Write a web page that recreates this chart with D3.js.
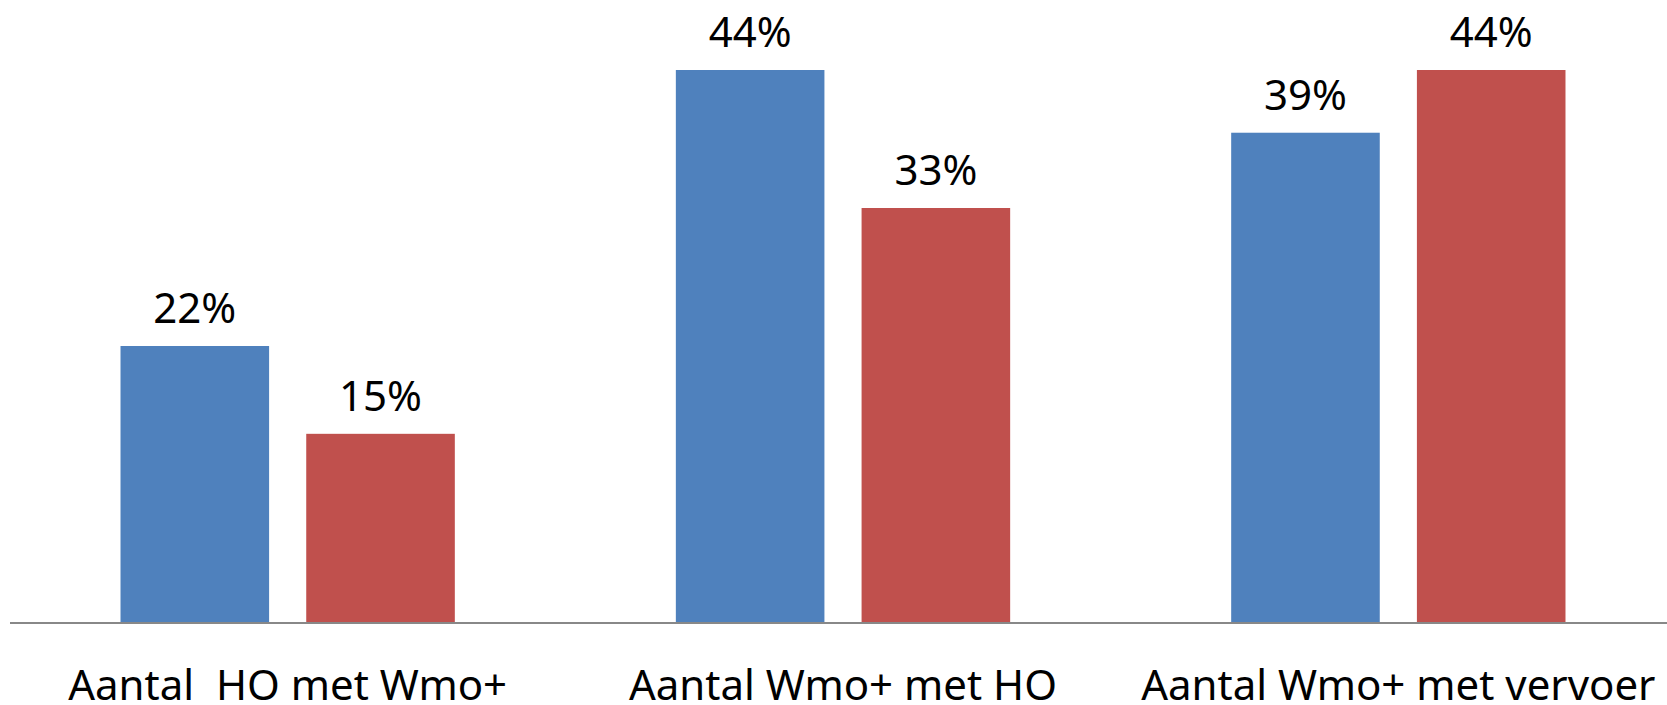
<!DOCTYPE html>
<html>
<head>
<meta charset="utf-8">
<script src="https://cdn.jsdelivr.net/npm/d3@7"></script>
<style>
  html, body { margin: 0; padding: 0; background: #fff; }
  svg { display: block; }
</style>
</head>
<body>
<svg id="chart" width="1667" height="705"></svg>
<script>
const categories = ["Aantal  HO met Wmo+", "Aantal Wmo+ met HO", "Aantal Wmo+ met vervoer"];
const seriesNames = ["Serie 1", "Serie 2"];
const seriesBlue = [22, 44, 39];
const seriesRed = [15, 33, 44];
const seriesColors = ["#4F81BD", "#C0504D"];

const W = 1667, H = 705;
const baseline = 622;
const svg = d3.select("#chart");
const font = "'Noto Sans', 'Open Sans', sans-serif";

const x0 = d3.scaleBand().domain(categories).range([10, 1676]).paddingInner(0.398).paddingOuter(0.199);
const x1 = d3.scaleBand().domain(seriesNames).range([0, x0.bandwidth()]).paddingInner(0.2).paddingOuter(0);
const y = d3.scaleLinear().domain([0, 44]).range([baseline, 70]);

const data = categories.map((c, i) => ({
  cat: c,
  vals: [
    { s: seriesNames[0], v: seriesBlue[i], color: seriesColors[0] },
    { s: seriesNames[1], v: seriesRed[i], color: seriesColors[1] }
  ]
}));

const groups = svg.selectAll("g.grp").data(data).join("g")
  .attr("class", "grp")
  .attr("transform", d => `translate(${x0(d.cat)},0)`);

groups.selectAll("rect").data(d => d.vals).join("rect")
  .attr("x", d => x1(d.s))
  .attr("y", d => y(d.v))
  .attr("width", x1.bandwidth())
  .attr("height", d => baseline - y(d.v))
  .attr("fill", d => d.color);

groups.selectAll("text.val").data(d => d.vals).join("text")
  .attr("class", "val")
  .attr("x", d => x1(d.s) + x1.bandwidth() / 2)
  .attr("y", d => y(d.v) - 23)
  .attr("text-anchor", "middle")
  .attr("font-family", font)
  .attr("font-size", 42)
  .attr("fill", "#000")
  .text(d => d.v + "%");

// x axis line
svg.append("line")
  .attr("x1", 10).attr("x2", W)
  .attr("y1", baseline + 1).attr("y2", baseline + 1)
  .attr("stroke", "#888").attr("stroke-width", 2);

// category labels
svg.selectAll("text.cat").data(categories).join("text")
  .attr("class", "cat")
  .attr("x", d => x0(d) + x0.bandwidth() / 2)
  .attr("y", baseline + 78)
  .attr("text-anchor", "middle")
  .attr("font-family", font)
  .attr("font-size", 42)
  .attr("fill", "#000")
  .style("white-space", "pre")
  .text(d => d);
</script>
</body>
</html>
